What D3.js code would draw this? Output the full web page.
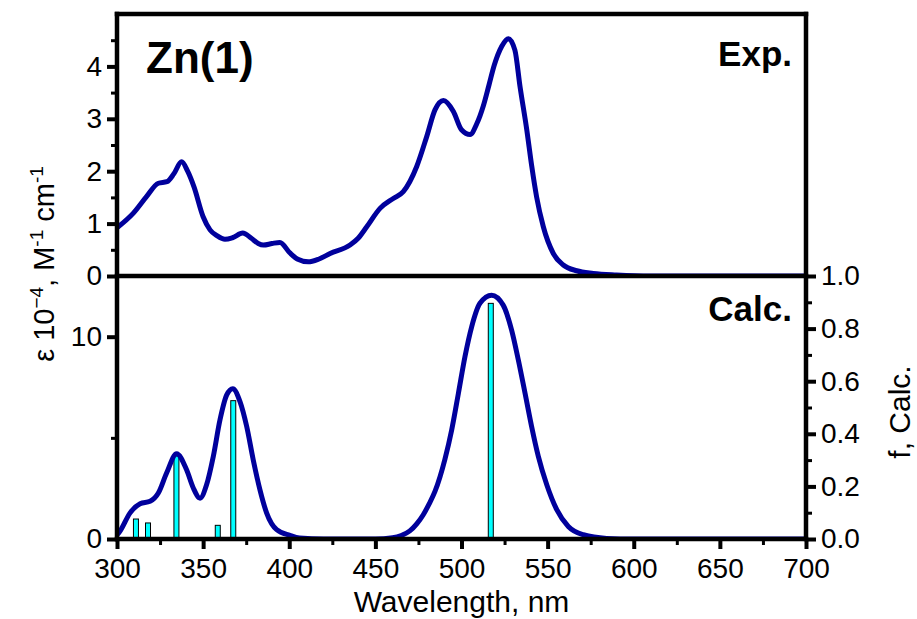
<!DOCTYPE html>
<html>
<head>
<meta charset="utf-8">
<title>Zn(1)</title>
<style>
  body { margin: 0; background: #fff; }
  text { font-family: Arial, "Liberation Sans", sans-serif; fill: #000; }
</style>
</head>
<body>
<div class="chart"></div>
<script src="https://cdn.jsdelivr.net/npm/d3@7"></script>
<script type="text/javascript">
// experimental spectrum, eps * 1e-4
var expWl  = [300, 309.5, 317, 324, 329, 333, 337.5, 341, 344.7, 350, 354, 358, 362.7, 367, 373, 378, 382, 385, 390, 394.6,
              400.4, 405, 411, 417, 423.7, 435.3, 440, 445, 452.7, 460.4, 466.2, 474, 479.8, 484.6, 489.5, 495.3, 500, 505,
              508.8, 512.7, 516, 519, 523.3, 527.2, 531, 534, 537.9, 540.8, 543.6, 547.5, 553.3, 559.1, 566.9, 576.5, 590, 610, 700];
var expEps = [0.92, 1.2, 1.51, 1.77, 1.8, 1.95, 2.18, 2.0, 1.7, 1.13, 0.88, 0.77, 0.7, 0.73, 0.82, 0.72, 0.62, 0.59, 0.62, 0.64,
              0.44, 0.32, 0.27, 0.32, 0.43, 0.59, 0.72, 0.94, 1.29, 1.48, 1.61, 2.09, 2.66, 3.17, 3.35, 3.14, 2.79, 2.7,
              2.9, 3.25, 3.65, 4.02, 4.38, 4.53, 4.31, 3.61, 2.79, 2.09, 1.51, 0.94, 0.43, 0.21, 0.1, 0.05, 0.02, 0, 0];

// calculated spectrum, eps * 1e-4
var calcWl  = [300, 301.7, 307.5, 313.4, 319.2, 324, 328.8, 334.6, 340.4, 344.3, 348.2, 352, 355.9, 359.8, 363.7, 367.2,
               371.4, 375.3, 379.1, 383, 386.9, 392.7, 400.4, 406, 420, 450, 460, 465, 470, 474, 477.8, 481, 484.6, 490.4,
               494.3, 498.2, 502, 505.9, 510.7, 517.5, 524.2, 529.1, 533, 536.9, 540.7, 544.6, 549.5, 555.3, 562, 570.7,
               584.3, 600, 700];
var calcEps = [0.2, 0.38, 1.28, 1.74, 1.86, 2.27, 3.26, 4.22, 3.42, 2.52, 2.02, 2.68, 4.08, 5.89, 7.12, 7.43,
               6.79, 5.56, 3.91, 2.43, 1.28, 0.46, 0.18, 0.05, 0, 0, 0.06, 0.17, 0.4, 0.75, 1.2, 1.7, 2.35, 3.95,
               5.39, 7.2, 9.01, 10.49, 11.65, 12.05, 11.56, 10.33, 8.85, 7.2, 5.56, 4.08, 2.68, 1.45, 0.62, 0.21,
               0.03, 0, 0];

// oscillator strengths
var barWl = [311, 318, 334.5, 358.5, 367.5, 517];
var barF  = [0.076, 0.061, 0.316, 0.052, 0.526, 0.896];

var xTicks     = [300, 350, 400, 450, 500, 550, 600, 650, 700];
var expTicks   = [0, 1, 2, 3, 4];
var calcTicks  = [0, 10];
var fTicks     = [0, 0.2, 0.4, 0.6, 0.8, 1.0];

var width  = 917;
var height = 619;
var plotL = 117, plotR = 806, plotT = 14, plotM = 276, plotB = 539;
var lineColor = "#00009c";

var svg = d3.select(".chart").append("svg").attr("width", width).attr("height", height);

var x     = d3.scaleLinear().domain([300, 700]).range([plotL, plotR]);
var yExp  = d3.scaleLinear().domain([0, 5]).range([plotM, plotT]);
var yCalc = d3.scaleLinear().domain([0, 13]).range([plotB, plotM]);
var yF    = d3.scaleLinear().domain([0, 1]).range([plotB, plotM]);

var defs = svg.append("defs");
defs.append("clipPath").attr("id", "clipTop").append("rect")
	.attr("x", plotL).attr("y", plotT).attr("width", plotR - plotL).attr("height", plotM - plotT);
defs.append("clipPath").attr("id", "clipBot").append("rect")
	.attr("x", plotL).attr("y", plotM).attr("width", plotR - plotL).attr("height", plotB - plotM);

// bars
svg.append("g").attr("clip-path", "url(#clipBot)")
	.selectAll("rect").data(barWl).enter().append("rect")
	.attr("x", function(d) { return x(d) - 2.5; })
	.attr("width", 5)
	.attr("y", function(d, i) { return yF(barF[i]); })
	.attr("height", function(d, i) { return yF(0) - yF(barF[i]); })
	.attr("fill", "#00ffff")
	.attr("stroke", "#000")
	.attr("stroke-width", 1);

// curves
var expLine = d3.line()
	.x(function(d, i) { return x(expWl[i]); })
	.y(function(d) { return yExp(d); })
	.curve(d3.curveMonotoneX);
var calcLine = d3.line()
	.x(function(d, i) { return x(calcWl[i]); })
	.y(function(d) { return yCalc(d); })
	.curve(d3.curveMonotoneX);

svg.append("path").attr("clip-path", "url(#clipTop)")
	.attr("d", expLine(expEps))
	.attr("fill", "none").attr("stroke", lineColor).attr("stroke-width", 5)
	.attr("stroke-linejoin", "round");
svg.append("path").attr("clip-path", "url(#clipBot)")
	.attr("d", calcLine(calcEps))
	.attr("fill", "none").attr("stroke", lineColor).attr("stroke-width", 5)
	.attr("stroke-linejoin", "round");

// axes
function styleAxis(g, w) {
	g.select(".domain").remove();
	g.selectAll(".tick line").attr("stroke", "#000").attr("stroke-width", w);
	g.selectAll(".tick text").attr("font-size", 28).attr("fill", "#000")
		.style("font-family", "Arial, 'Liberation Sans', sans-serif");
}

var gx = svg.append("g").attr("transform", "translate(0," + plotB + ")")
	.call(d3.axisBottom(x).tickValues(xTicks).tickSize(10).tickPadding(9).tickFormat(d3.format("d")));
styleAxis(gx, 4);
var gxm = svg.append("g").attr("transform", "translate(0," + plotB + ")")
	.call(d3.axisBottom(x).tickValues(d3.range(325, 700, 50)).tickSize(6).tickFormat(""));
styleAxis(gxm, 3);

var gyE = svg.append("g").attr("transform", "translate(" + plotL + ",0)")
	.call(d3.axisLeft(yExp).tickValues(expTicks).tickSize(10).tickPadding(5).tickFormat(d3.format("d")));
styleAxis(gyE, 4);
var gyEm = svg.append("g").attr("transform", "translate(" + plotL + ",0)")
	.call(d3.axisLeft(yExp).tickValues([0.5, 1.5, 2.5, 3.5, 4.5]).tickSize(6).tickFormat(""));
styleAxis(gyEm, 3);

var gyC = svg.append("g").attr("transform", "translate(" + plotL + ",0)")
	.call(d3.axisLeft(yCalc).tickValues(calcTicks).tickSize(10).tickPadding(5).tickFormat(d3.format("d")));
styleAxis(gyC, 4);
var gyCm = svg.append("g").attr("transform", "translate(" + plotL + ",0)")
	.call(d3.axisLeft(yCalc).tickValues([5]).tickSize(6).tickFormat(""));
styleAxis(gyCm, 3);

var gyF = svg.append("g").attr("transform", "translate(" + plotR + ",0)")
	.call(d3.axisRight(yF).tickValues(fTicks).tickSize(10).tickPadding(5).tickFormat(d3.format(".1f")));
styleAxis(gyF, 4);
var gyFm = svg.append("g").attr("transform", "translate(" + plotR + ",0)")
	.call(d3.axisRight(yF).tickValues([0.1, 0.3, 0.5, 0.7, 0.9]).tickSize(6).tickFormat(""));
styleAxis(gyFm, 3);

// frame
var frame = svg.append("g").attr("stroke", "#000").attr("stroke-width", 4.5).attr("stroke-linecap", "square");
frame.append("line").attr("x1", plotL).attr("x2", plotR).attr("y1", plotT).attr("y2", plotT);
frame.append("line").attr("x1", plotL).attr("x2", plotR).attr("y1", plotM).attr("y2", plotM);
frame.append("line").attr("x1", plotL).attr("x2", plotR).attr("y1", plotB).attr("y2", plotB);
frame.append("line").attr("x1", plotL).attr("x2", plotL).attr("y1", plotT).attr("y2", plotB);
frame.append("line").attr("x1", plotR).attr("x2", plotR).attr("y1", plotT).attr("y2", plotB);

// labels
svg.append("text").attr("x", 146).attr("y", 73).attr("font-size", 44).attr("font-weight", "bold").text("Zn(1)");
svg.append("text").attr("x", 792).attr("y", 66).attr("font-size", 35).attr("font-weight", "bold")
	.attr("text-anchor", "end").text("Exp.");
svg.append("text").attr("x", 792).attr("y", 321).attr("font-size", 35).attr("font-weight", "bold")
	.attr("text-anchor", "end").text("Calc.");

svg.append("text").attr("x", (plotL + plotR) / 2).attr("y", 612).attr("font-size", 30)
	.attr("text-anchor", "middle").text("Wavelength, nm");

svg.append("text").attr("transform", "translate(910,412) rotate(-90)").attr("font-size", 30)
	.attr("text-anchor", "middle").text("f, Calc.");

var yl = svg.append("text").attr("transform", "translate(54,264) rotate(-90)").attr("font-size", 29)
	.attr("text-anchor", "middle");
yl.append("tspan").text("\u03b5 10");
yl.append("tspan").attr("font-size", 19).attr("dy", -11).text("\u22124");
yl.append("tspan").attr("dy", 11).text(", M");
yl.append("tspan").attr("font-size", 19).attr("dy", -11).text("-1");
yl.append("tspan").attr("dy", 11).text(" cm");
yl.append("tspan").attr("font-size", 19).attr("dy", -11).text("-1");
</script>
</body>
</html>
